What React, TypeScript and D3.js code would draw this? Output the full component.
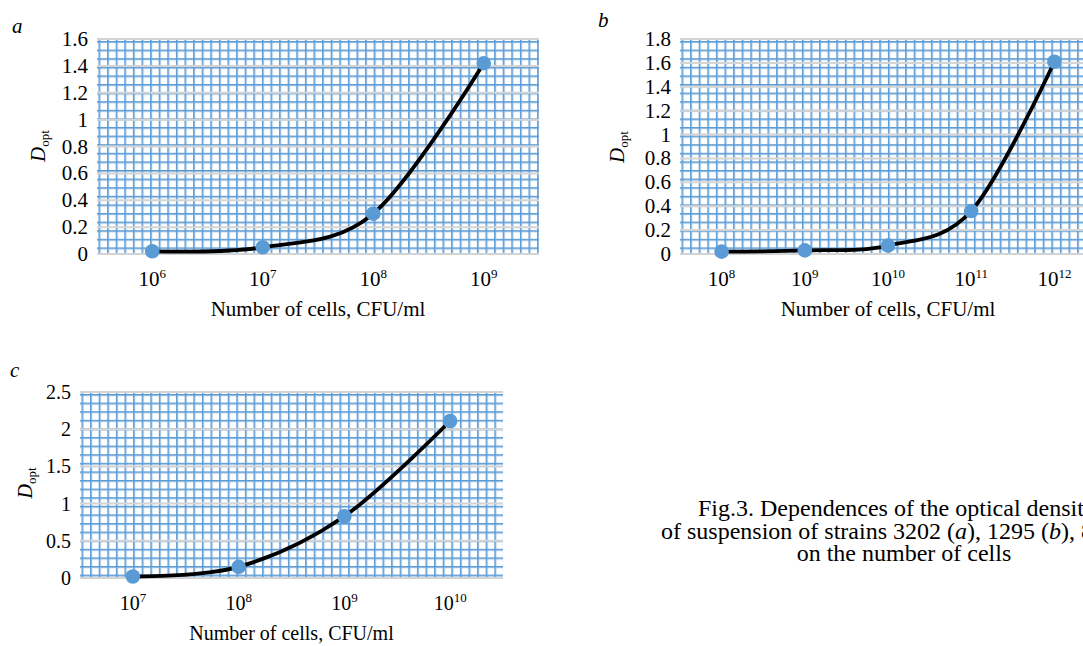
import React from 'react'
import * as d3 from 'd3'

// values (x axis is a category axis of powers of ten)
const expA = [6, 7, 8, 9]
const valuesA = [0.02, 0.05, 0.3, 1.42]
const ticksA = [0, 0.2, 0.4, 0.6, 0.8, 1, 1.2, 1.4, 1.6]

const expB = [8, 9, 10, 11, 12]
const valuesB = [0.02, 0.03, 0.07, 0.36, 1.61]
const ticksB = [0, 0.2, 0.4, 0.6, 0.8, 1, 1.2, 1.4, 1.6, 1.8]

const expC = [7, 8, 9, 10]
const valuesC = [0.02, 0.15, 0.83, 2.11]
const ticksC = [0, 0.5, 1, 1.5, 2, 2.5]

const captionLines = [
  'Fig.3. Dependences of the optical density',
  'of suspension of strains 3202 (',
  'on the number of cells',
]

const FONT = '"Liberation Serif", "Times New Roman", serif'
const BLUE = '#5b9bd5'

type PanelProps = {
  id: string
  letter: string
  exps: number[]
  values: number[]
  ticks: number[]
  left: number
  top: number
  width: number
  bottom: number
  fontSize: number
  letterPos: [number, number]
  yTitleX: number
  yTitleY: number
}

const Panel: React.FC<PanelProps> = (p) => {
  const x = d3
    .scaleBand<number>()
    .domain(p.exps)
    .range([p.left, p.left + p.width])
    .padding(0)
  const y = d3
    .scaleLinear()
    .domain([0, p.ticks[p.ticks.length - 1]])
    .range([p.bottom, p.top])

  const cx = (e: number) => x(e)! + x.bandwidth() / 2
  const pts = p.exps.map((e, i) => [cx(e), y(p.values[i])] as [number, number])
  const line = d3.line().curve(d3.curveCardinal.tension(0))(pts) || ''

  const fs = p.fontSize
  const sup = Math.round(fs * 0.64)
  const step = 8.6
  return (
    <g fontFamily={FONT}>
      <defs>
        <pattern
          id={'grid-' + p.id}
          patternUnits="userSpaceOnUse"
          width={step}
          height={step}
          patternTransform={`translate(${p.left + 1.5},${p.top + 2})`}
        >
          <rect width={step} height={step} fill="#fff" />
          <line x1={0} x2={0} y1={0} y2={step} stroke="#bcd5ee" strokeWidth={4.4} />
          <line x1={0} x2={step} y1={0} y2={0} stroke="#bcd5ee" strokeWidth={4.4} />
          <line x1={0} x2={0} y1={-1} y2={step + 1} stroke={BLUE} strokeWidth={2.8} />
          <line x1={-1} x2={step + 1} y1={0} y2={0} stroke={BLUE} strokeWidth={2.8} />
        </pattern>
      </defs>
      <rect
        x={p.left}
        y={p.top}
        width={p.width}
        height={p.bottom - p.top}
        fill={`url(#grid-${p.id})`}
      />
      {p.ticks.map((t) => (
        <line
          key={t}
          x1={p.left}
          x2={p.left + p.width}
          y1={y(t)}
          y2={y(t)}
          stroke="#d4d4d4"
          strokeWidth={2}
        />
      ))}
      <path d={line} fill="none" stroke="#000" strokeWidth={3.8} />
      {pts.map(([px, py], i) => (
        <circle key={i} cx={px} cy={py} r={7.3} fill={BLUE} />
      ))}

      {/* y tick labels */}
      {p.ticks.map((t) => (
        <text key={t} x={p.left - 9} y={y(t) + 7} textAnchor="end" fontSize={fs}>
          {String(+t.toFixed(1))}
        </text>
      ))}

      {/* x tick labels */}
      {p.exps.map((e) => (
        <text key={e} x={cx(e)} y={p.bottom + 32} textAnchor="middle" fontSize={fs}>
          <tspan>10</tspan>
          <tspan dy={-8} fontSize={sup}>
            {e}
          </tspan>
        </text>
      ))}

      <text x={p.left + p.width / 2} y={p.bottom + 62} textAnchor="middle" fontSize={fs}>
        Number of cells, CFU/ml
      </text>

      <g transform={`translate(${p.yTitleX},${p.yTitleY}) rotate(-90)`}>
        <text textAnchor="middle" fontSize={fs}>
          <tspan fontStyle="italic">D</tspan>
          <tspan dy={4} fontSize={sup}>
            opt
          </tspan>
        </text>
      </g>

      <text x={p.letterPos[0]} y={p.letterPos[1]} fontSize={21} fontStyle="italic">
        {p.letter}
      </text>
    </g>
  )
}

const App: React.FC = () => {
  return (
    <div style={{ position: 'absolute', left: 0, top: 0 }}>
      <svg width={1083} height={646} style={{ display: 'block', background: '#fff' }}>
        <Panel
          id="a"
          letter="a"
          exps={expA}
          values={valuesA}
          ticks={ticksA}
          left={97}
          top={39}
          width={442}
          bottom={254}
          fontSize={21}
          letterPos={[12, 33]}
          yTitleX={45}
          yTitleY={146}
        />
        <Panel
          id="b"
          letter="b"
          exps={expB}
          values={valuesB}
          ticks={ticksB}
          left={680}
          top={39}
          width={416}
          bottom={254}
          fontSize={21}
          letterPos={[598, 27]}
          yTitleX={624}
          yTitleY={147}
        />
        <Panel
          id="c"
          letter="c"
          exps={expC}
          values={valuesC}
          ticks={ticksC}
          left={80}
          top={392}
          width={423}
          bottom={578}
          fontSize={20}
          letterPos={[10, 377]}
          yTitleX={32}
          yTitleY={483}
        />

        <g fontFamily={FONT} fontSize={24}>
          <text x={698} y={516}>
            {captionLines[0]}
          </text>
          <text x={661} y={539}>
            {captionLines[1]}
            <tspan fontStyle="italic">a</tspan>), 1295 (<tspan fontStyle="italic">b</tspan>
            ), 8
          </text>
          <text x={904} y={561} textAnchor="middle">
            {captionLines[2]}
          </text>
        </g>
      </svg>
    </div>
  )
}

export default App
